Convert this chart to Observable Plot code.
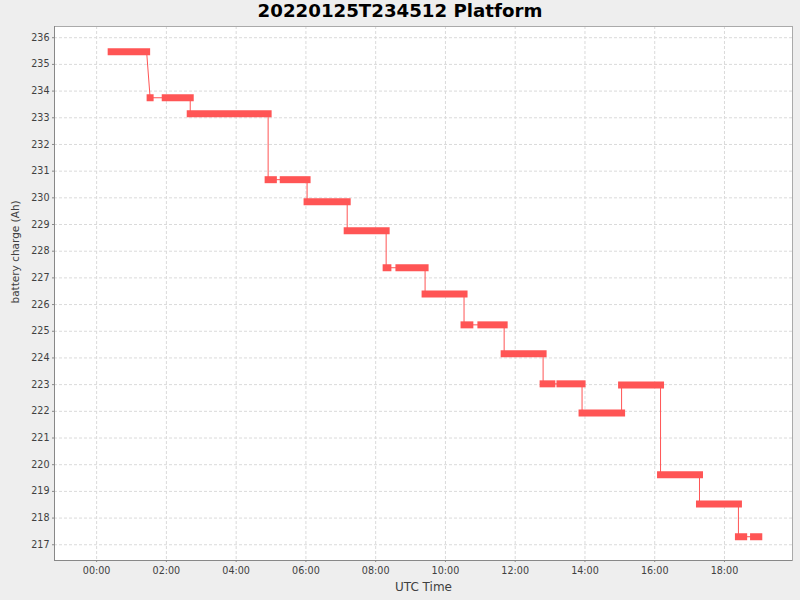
<!DOCTYPE html>
<html><head><meta charset="utf-8">
<script src="https://cdn.jsdelivr.net/npm/d3@7"></script>
<script src="https://cdn.jsdelivr.net/npm/@observablehq/plot@0.6"></script>
<style>
body{margin:0;background:#eeeeee;width:800px;height:600px;overflow:hidden;}
#title{height:24px;line-height:24px;text-align:center;font:bold 18.2px "DejaVu Sans";color:#000;white-space:nowrap;}
#chart svg{display:block;}
</style></head><body>
<div id="title">20220125T234512 Platform</div>
<div id="chart"></div>
<script>
// Segment start / end times (UTC, 2022-01-26) and battery charge (Ah)
const startTimes = ["00:25","01:32","01:58","02:41","04:55","05:21","06:02","07:11","08:18","08:40","09:25","10:32","11:01","11:41","12:48","13:17","13:55","15:03","16:10","17:17","18:24","18:50"];
const endTimes   = ["01:26","01:32","02:41","04:55","05:04","06:02","07:11","08:18","08:21","09:25","10:32","10:42","11:41","12:48","13:03","13:55","15:03","16:10","17:17","18:24","18:33","18:59"];
const charges    = [235.47,233.75,233.75,233.15,230.68,230.68,229.85,228.77,227.38,227.38,226.40,225.24,225.24,224.16,223.03,223.03,221.94,222.99,219.62,218.53,217.30,217.30];

const xTickLabels = ["00:00","02:00","04:00","06:00","08:00","10:00","12:00","14:00","16:00","18:00"];
const yTicks = [217,218,219,220,221,222,223,224,225,226,227,228,229,230,231,232,233,234,235,236];

const day = Date.UTC(2022, 0, 26);
const toDate = s => { const [h, m] = s.split(":").map(Number); return new Date(day + (h * 60 + m) * 60000); };

const segments = startTimes.map((s, i) => ({start: toDate(s), end: toDate(endTimes[i]), charge: charges[i]}));
const points = segments.flatMap(d => [{time: d.start, charge: d.charge}, {time: d.end, charge: d.charge}]);
const xTicks = xTickLabels.map(toDate);

const xDomain = [new Date(day - 1.208 * 3600e3), new Date(day + 19.95 * 3600e3)];
const yDomain = [216.41, 236.42];
const red = "#ff5555";
const gridStyle = {stroke: "#dadada", strokeOpacity: 1, strokeWidth: 1, strokeDasharray: "3,2"};

const chart = Plot.plot({
  width: 800, height: 576,
  marginTop: 2, marginBottom: 40, marginLeft: 54, marginRight: 8,
  style: {background: "transparent", fontFamily: "DejaVu Sans", fontSize: "9.6px", color: "#404040"},
  x: {type: "utc", domain: xDomain},
  y: {domain: yDomain},
  marks: [
    Plot.frame({fill: "white", stroke: "none"}),
    Plot.gridX(xTicks, gridStyle),
    Plot.gridY(yTicks, gridStyle),
    Plot.line(points, {x: "time", y: "charge", stroke: red, strokeWidth: 1}),
    Plot.link(segments, {x1: "start", x2: "end", y1: "charge", y2: "charge", stroke: red, strokeWidth: 7, strokeLinecap: "square"}),
    Plot.frame({stroke: "#aaaaaa", fill: "none"}),
    Plot.ruleX([xDomain[0]], {stroke: "#888888"}),
    Plot.ruleY([yDomain[0]], {stroke: "#888888"}),
    Plot.axisX(xTicks, {tickFormat: (d, i) => xTickLabels[i], tickSize: 2, tickPadding: 4.5, label: null, stroke: "#888888", fill: "#404040"}),
    Plot.axisY(yTicks, {tickSize: 2, tickPadding: 3, label: null, stroke: "#888888", fill: "#404040"}),
    Plot.text(["UTC Time"], {frameAnchor: "bottom", dy: 26.5, fontSize: 12, lineAnchor: "middle", fill: "#404040"}),
    Plot.text(["battery charge (Ah)"], {frameAnchor: "left", rotate: -90, dx: -38.4, dy: 10, fontSize: 10.5, lineAnchor: "middle", fill: "#404040"})
  ]
});
document.getElementById("chart").append(chart);
</script>
</body></html>
